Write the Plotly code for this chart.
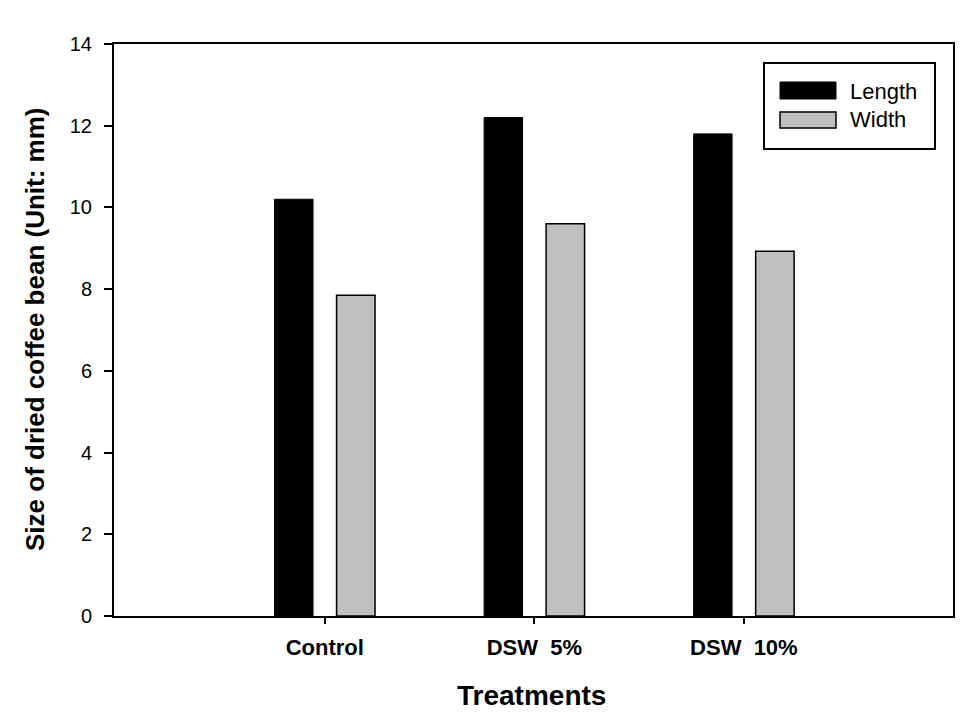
import plotly.graph_objects as go

categories = ["Control", "DSW  5%", "DSW  10%"]
length_vals = [10.2, 12.2, 11.8]
width_vals = [7.85, 9.6, 8.93]
y_ticks = [0, 2, 4, 6, 8, 10, 12, 14]

FONT = "Liberation Sans, Arial, sans-serif"

W, H = 975, 717
PL, PR, PT, PB = 114, 953, 44, 616  # plot area in pixels
L, T, R, B = PL, PT, W - PR, H - PB
pw, ph = PR - PL, PB - PT


def px(x):
    return (x - PL) / pw


def py(y):
    return (PB - y) / ph


fig = go.Figure()
fig.add_trace(go.Bar(x=categories, y=length_vals, name="Length",
                     marker=dict(color="black", line=dict(color="black", width=1)),
                     showlegend=False))
fig.add_trace(go.Bar(x=categories, y=width_vals, name="Width",
                     marker=dict(color="#c0c0c0", line=dict(color="black", width=1.5)),
                     showlegend=False))

shapes = [
    dict(type="rect", xref="paper", yref="paper", x0=px(764), x1=px(935), y0=py(149), y1=py(63),
         line=dict(color="black", width=2), fillcolor="white"),
    dict(type="rect", xref="paper", yref="paper", x0=px(780), x1=px(836), y0=py(99), y1=py(82),
         line=dict(color="black", width=1), fillcolor="black"),
    dict(type="rect", xref="paper", yref="paper", x0=px(780), x1=px(836), y0=py(128), y1=py(112),
         line=dict(color="black", width=1.5), fillcolor="#c0c0c0"),
]
annotations = [
    dict(xref="paper", yref="paper", x=px(848), y=py(91), text="Length", showarrow=False,
         xanchor="left", yanchor="middle", font=dict(family=FONT, size=22, color="black")),
    dict(xref="paper", yref="paper", x=px(848), y=py(119), text="Width", showarrow=False,
         xanchor="left", yanchor="middle", font=dict(family=FONT, size=22, color="black")),
    dict(xref="paper", yref="paper", x=px(531), y=py(695), text="<b>Treatments</b>", showarrow=False,
         xanchor="center", yanchor="middle", font=dict(family=FONT, size=28, color="black")),
    dict(xref="paper", yref="paper", x=px(35), y=py(329), text="<b>Size of dried coffee bean (Unit: mm)</b>",
         showarrow=False, textangle=-90, xanchor="center", yanchor="middle",
         font=dict(family=FONT, size=26, color="black")),
]

fig.update_layout(
    width=W, height=H,
    margin=dict(l=L, r=R, t=T, b=B, autoexpand=False),
    paper_bgcolor="white", plot_bgcolor="white",
    barmode="group", bargap=0.408, bargroupgap=0.38,
    font=dict(family=FONT, color="black"),
    shapes=shapes, annotations=annotations,
    xaxis=dict(
        type="category", range=[-1.006, 2.998],
        showline=True, linecolor="black", linewidth=2, mirror=True,
        ticks="outside", ticklen=6, tickwidth=2, tickcolor="black",
        showgrid=False, zeroline=False, automargin=False,
        ticklabelstandoff=5,
        tickfont=dict(family=FONT, size=22, color="black", weight="bold"),
    ),
    yaxis=dict(
        range=[0, 14], tickvals=y_ticks,
        showline=True, linecolor="black", linewidth=2, mirror=True,
        ticks="outside", ticklen=8, tickwidth=2, tickcolor="black",
        showgrid=False, zeroline=False, automargin=False,
        ticklabelstandoff=8,
        tickfont=dict(family=FONT, size=20, color="black"),
    ),
)

fig.write_html("out.html",
               config={"displayModeBar": False},
               post_script="document.body.style.margin='0px';document.body.style.overflow='hidden';")
